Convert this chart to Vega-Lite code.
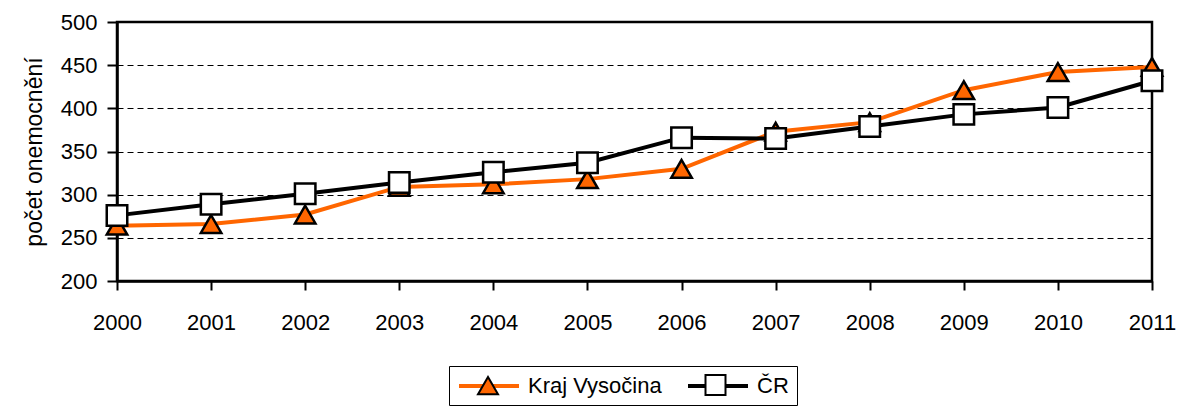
{
  "$schema": "https://vega.github.io/schema/vega-lite/v6.json",
  "width": 1035,
  "height": 259,
  "autosize": "none",
  "padding": {"left": 117, "top": 22, "right": 29, "bottom": 131},
  "background": "white",
  "config": {
    "font": "Liberation Sans",
    "view": {"stroke": "black", "strokeWidth": 2.5},
    "axis": {
      "domainColor": "black",
      "domainWidth": 2.5,
      "tickColor": "black",
      "tickWidth": 2,
      "labelColor": "black",
      "labelFont": "Liberation Sans",
      "labelFontSize": 22,
      "titleFont": "Liberation Sans",
      "titleFontSize": 23,
      "titleFontWeight": "normal",
      "titleColor": "black"
    },
    "legend": {
      "labelFont": "Liberation Sans",
      "labelFontSize": 22,
      "labelColor": "black"
    }
  },
  "data": {
    "values": [
      {"rok": "2000", "serie": "Kraj Vysočina", "hodnota": 264},
      {"rok": "2001", "serie": "Kraj Vysočina", "hodnota": 266},
      {"rok": "2002", "serie": "Kraj Vysočina", "hodnota": 277},
      {"rok": "2003", "serie": "Kraj Vysočina", "hodnota": 309},
      {"rok": "2004", "serie": "Kraj Vysočina", "hodnota": 312},
      {"rok": "2005", "serie": "Kraj Vysočina", "hodnota": 318},
      {"rok": "2006", "serie": "Kraj Vysočina", "hodnota": 330},
      {"rok": "2007", "serie": "Kraj Vysočina", "hodnota": 373},
      {"rok": "2008", "serie": "Kraj Vysočina", "hodnota": 384},
      {"rok": "2009", "serie": "Kraj Vysočina", "hodnota": 421},
      {"rok": "2010", "serie": "Kraj Vysočina", "hodnota": 442},
      {"rok": "2011", "serie": "Kraj Vysočina", "hodnota": 448},
      {"rok": "2000", "serie": "ČR", "hodnota": 276},
      {"rok": "2001", "serie": "ČR", "hodnota": 289},
      {"rok": "2002", "serie": "ČR", "hodnota": 301},
      {"rok": "2003", "serie": "ČR", "hodnota": 314},
      {"rok": "2004", "serie": "ČR", "hodnota": 326},
      {"rok": "2005", "serie": "ČR", "hodnota": 337},
      {"rok": "2006", "serie": "ČR", "hodnota": 366},
      {"rok": "2007", "serie": "ČR", "hodnota": 365},
      {"rok": "2008", "serie": "ČR", "hodnota": 379},
      {"rok": "2009", "serie": "ČR", "hodnota": 393},
      {"rok": "2010", "serie": "ČR", "hodnota": 401},
      {"rok": "2011", "serie": "ČR", "hodnota": 432}
    ]
  },
  "encoding": {
    "x": {
      "field": "rok",
      "type": "ordinal",
      "scale": {"type": "point", "padding": 0},
      "axis": {
        "title": null,
        "labelAngle": 0,
        "tickSize": 9,
        "labelPadding": 22,
        "grid": false
      }
    },
    "y": {
      "field": "hodnota",
      "type": "quantitative",
      "scale": {"domain": [200, 500], "nice": false, "zero": false},
      "axis": {
        "title": "počet onemocnění",
        "values": [200, 250, 300, 350, 400, 450, 500],
        "tickSize": 10,
        "labelPadding": 10,
        "titlePadding": 14,
        "grid": true,
        "gridColor": "black",
        "gridWidth": 1,
        "gridDash": [6, 4]
      }
    }
  },
  "layer": [
    {
      "mark": {"type": "line", "strokeWidth": 4},
      "encoding": {
        "color": {
          "field": "serie",
          "type": "nominal",
          "scale": {"domain": ["Kraj Vysočina", "ČR"], "range": ["#FF6600", "#000000"]},
          "legend": {
            "title": null,
            "orient": "none",
            "direction": "horizontal",
            "legendX": 332,
            "legendY": 344,
            "symbolType": "M-1,0H5",
            "symbolSize": 400,
            "symbolStrokeWidth": 4,
            "labelOffset": 47,
            "columnPadding": 18,
            "padding": 8,
            "strokeColor": "black",
            "fillColor": "white"
          }
        }
      }
    },
    {
      "mark": {"type": "point", "filled": true, "size": 420, "stroke": "black", "strokeWidth": 2.5, "opacity": 1},
      "encoding": {
        "fill": {
          "field": "serie",
          "type": "nominal",
          "scale": {"range": ["#FF6600", "#FFFFFF"]},
          "legend": {
            "title": null,
            "orient": "none",
            "direction": "horizontal",
            "legendX": 352,
            "legendY": 344,
            "symbolSize": 400,
            "symbolStrokeColor": "black",
            "symbolStrokeWidth": 2,
            "labelExpr": "''",
            "labelOffset": 0,
            "columnPadding": 199.5,
            "padding": 8
          }
        },
        "shape": {
          "field": "serie",
          "type": "nominal",
          "scale": {"range": ["triangle-up", "square"]}
        }
      }
    }
  ]
}
